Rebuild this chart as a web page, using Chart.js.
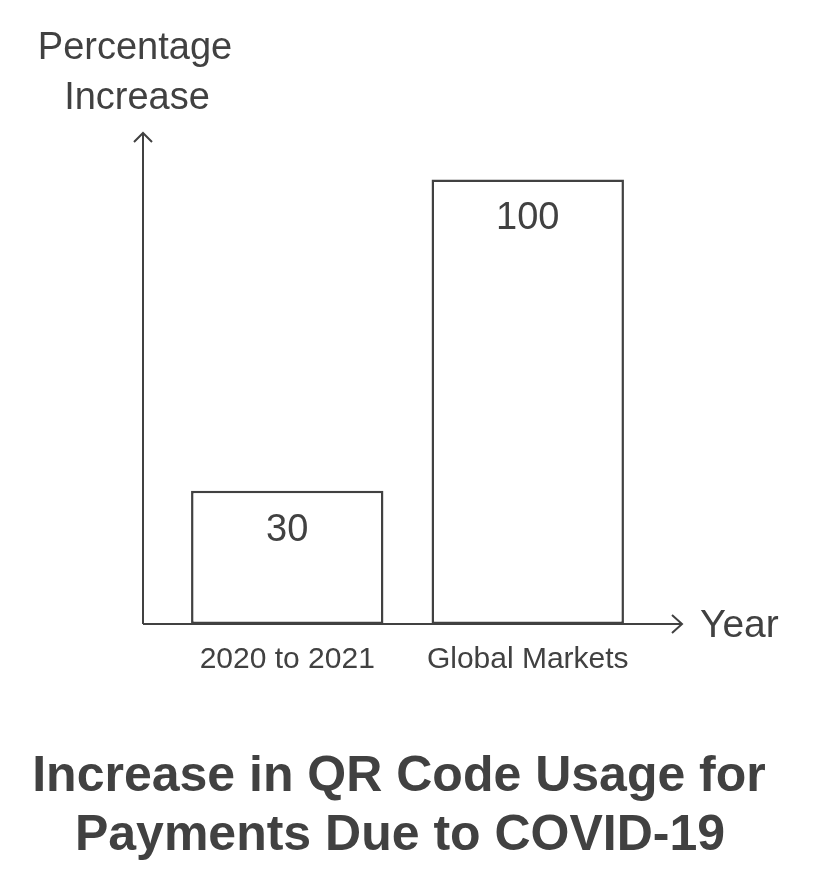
<!DOCTYPE html>
<html lang="en">
<head>
  <meta charset="UTF-8">
  <title>Increase in QR Code Usage for Payments Due to COVID-19</title>
  <script src="https://cdn.jsdelivr.net/npm/chart.js"></script>
  <style>
    html, body { margin: 0; padding: 0; background: #fff; }
    #wrap { width: 816px; height: 888px; }
  </style>
</head>
<body>
<div id="wrap">
  <canvas id="qrChart" width="816" height="888"></canvas>
</div>

<script>
  // данные графика
  const categories = ['2020 to 2021', 'Global Markets'];
  const increaseValues = [30, 100];
  const yAxisTitle = ['Percentage', 'Increase'];
  const xAxisTitle = 'Year';
  const chartTitle = ['Increase in QR Code Usage for', 'Payments Due to COVID-19'];

  const ink = '#414141';
  const fontFamily = '"Liberation Sans", Arial, Helvetica, sans-serif';

  // оси со стрелками, подписи и заголовок
  const sketchPlugin = {
    id: 'sketch',
    afterDatasetsDraw(chart) {
      const { ctx, chartArea, scales } = chart;
      const ox = chartArea.left - 24;
      const oy = chartArea.bottom;
      const topY = chartArea.top - 2;
      const rightX = chartArea.right + 34;

      ctx.save();
      ctx.strokeStyle = ink;
      ctx.lineWidth = 2;
      ctx.lineCap = 'butt';

      // ось Y
      ctx.beginPath();
      ctx.moveTo(ox, oy);
      ctx.lineTo(ox, topY);
      ctx.moveTo(ox - 9, topY + 9);
      ctx.lineTo(ox, topY);
      ctx.lineTo(ox + 9, topY + 9);
      ctx.stroke();

      // ось X
      ctx.beginPath();
      ctx.moveTo(ox, oy);
      ctx.lineTo(rightX, oy);
      ctx.moveTo(rightX - 10, oy - 9);
      ctx.lineTo(rightX, oy);
      ctx.lineTo(rightX - 10, oy + 9);
      ctx.stroke();

      ctx.fillStyle = ink;

      // значения в столбцах
      ctx.font = '38px ' + fontFamily;
      ctx.textAlign = 'center';
      ctx.textBaseline = 'alphabetic';
      chart.getDatasetMeta(0).data.forEach((bar, i) => {
        ctx.fillText(String(increaseValues[i]), bar.x, bar.y + 50);
      });

      // подписи категорий
      ctx.font = '30px ' + fontFamily;
      categories.forEach((c, i) => {
        ctx.fillText(c, scales.x.getPixelForValue(i), oy + 44);
      });

      // подпись оси Y
      ctx.font = '38px ' + fontFamily;
      ctx.fillText(yAxisTitle[0], 135, 59);
      ctx.fillText(yAxisTitle[1], 137, 109);

      // подпись оси X
      ctx.textAlign = 'left';
      ctx.font = '39px ' + fontFamily;
      ctx.fillText(xAxisTitle, rightX + 18, oy + 13);

      // заголовок
      ctx.textAlign = 'center';
      ctx.font = 'bold 50px ' + fontFamily;
      ctx.fillText(chartTitle[0], 399, 791);
      ctx.fillText(chartTitle[1], 400, 850);

      ctx.restore();
    }
  };

  const ctx = document.getElementById('qrChart').getContext('2d');
  new Chart(ctx, {
    type: 'bar',
    data: {
      labels: categories,
      datasets: [{
        data: increaseValues,
        backgroundColor: '#ffffff',
        borderColor: ink,
        borderWidth: 2.5,
        borderSkipped: false,
        barPercentage: 0.8,
        categoryPercentage: 1
      }]
    },
    options: {
      responsive: false,
      animation: false,
      layout: {
        padding: { left: 167, right: 168, top: 135, bottom: 264 }
      },
      scales: {
        x: { display: false },
        y: { display: false, min: 0, max: 110 }
      },
      plugins: {
        legend: { display: false },
        tooltip: { enabled: false },
        title: { display: false }
      }
    },
    plugins: [sketchPlugin]
  });
</script>
</body>
</html>
